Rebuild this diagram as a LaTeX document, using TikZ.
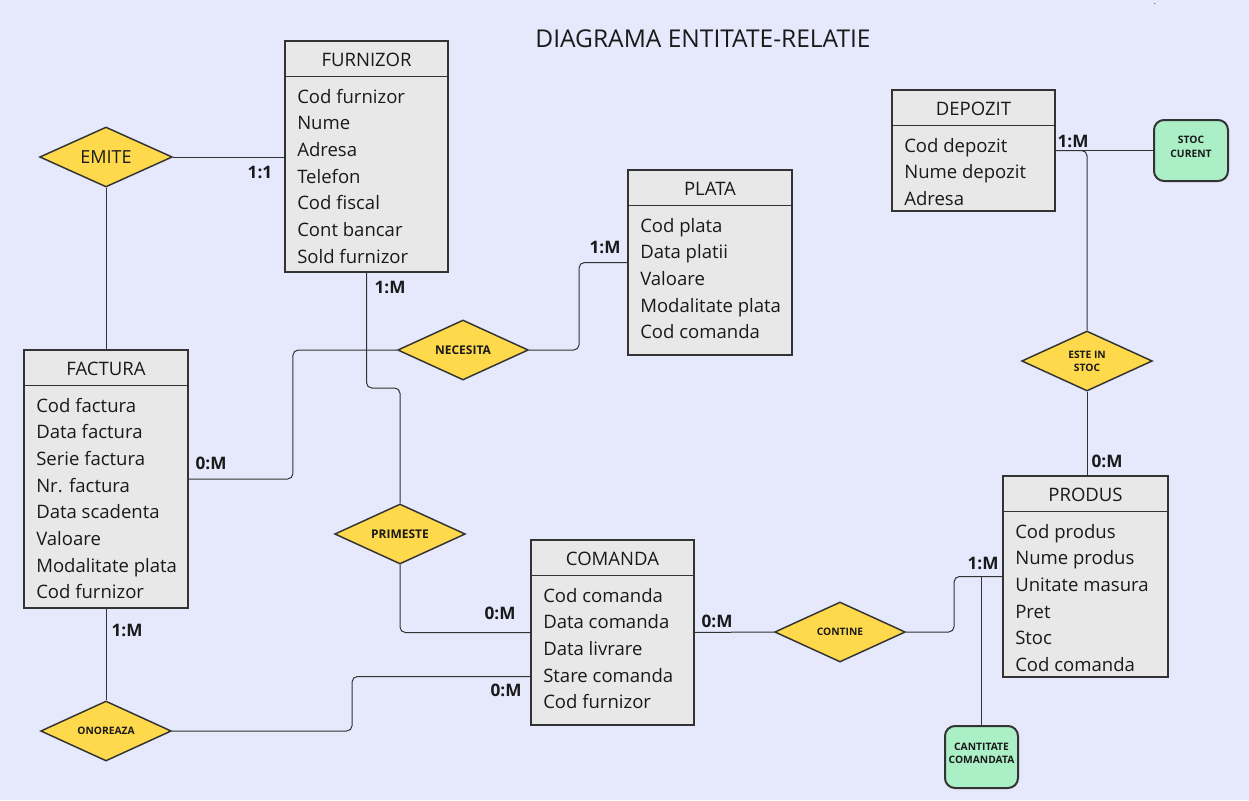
\documentclass[tikz,border=0pt]{standalone}
\usepackage{fontspec}
\setmainfont{Open Sans}
\usetikzlibrary{shapes.geometric, fit, calc, positioning}

\definecolor{bgcol}{RGB}{230,232,252}
\definecolor{entfill}{RGB}{232,232,232}
\definecolor{relfill}{RGB}{255,217,76}
\definecolor{atrfill}{RGB}{171,239,199}
\definecolor{linecol}{RGB}{51,51,51}
\definecolor{txtcol}{RGB}{26,26,26}

\begin{document}
\begin{tikzpicture}[
    x=0.75pt, y=-0.75pt,
    every node/.style={text=txtcol},
    entity/.style={draw=linecol, fill=entfill, line width=1.5pt, inner sep=0pt},
    entname/.style={font=\fontsize{13.9}{16}\selectfont, anchor=center},
    attrs/.style={font=\fontsize{13.9}{20}\selectfont, align=left, inner sep=0pt, anchor=north west},
    rel/.style={diamond, draw=linecol, fill=relfill, line width=1.1pt, aspect=2.2, inner sep=0pt, minimum width=98pt, minimum height=45pt, align=center},
    atr/.style={rectangle, rounded corners=7.5pt, draw=linecol, fill=atrfill, line width=1.5pt, inner sep=0pt, align=center, font=\fontsize{7.7}{10.5}\selectfont\bfseries},
    card/.style={font=\fontsize{12.9}{15}\selectfont\bfseries},
    link/.style={draw=linecol, line width=0.75pt, rounded corners=4pt},
    headline/.style={draw=linecol, line width=0.8pt}
]

% --- fundal si titlu
\fill[bgcol] (0,0) rectangle (1249,800);
\useasboundingbox (0,0) rectangle (1249,800);
\node[font=\fontsize{18.4}{20}\selectfont] (diagtitle) at (703,39) {DIAGRAMA ENTITATE-RELATIE};
\node[font=\fontsize{6}{6}\selectfont] (dot) at (1155,4) {.};

% --- entitati
\node[entity, fit={(285,41) (448,272)}] (furnizor) {};
\node[entity, fit={(24,350) (188,608)}] (factura) {};
\node[entity, fit={(628,170) (792,355)}] (plata) {};
\node[entity, fit={(531,540) (694,725)}] (comanda) {};
\node[entity, fit={(1003,476) (1168,677)}] (produs) {};
\node[entity, fit={(892,90) (1055,211)}] (depozit) {};

\foreach \e/\t in {furnizor/FURNIZOR, factura/FACTURA, plata/PLATA, comanda/COMANDA, produs/PRODUS, depozit/DEPOZIT}{
    \draw[headline] ([yshift=-27.5pt]\e.north west) -- ([yshift=-27.5pt]\e.north east);
    \node[entname] (\e-name) at ([yshift=-14.6pt]\e.north) {\t};
}

% --- atribute
\node[attrs] (furnizor-attr) at ([xshift=9.75pt, yshift=-36.6pt]furnizor.north west)
    {Cod furnizor\\Nume\\Adresa\\Telefon\\Cod fiscal\\Cont bancar\\Sold furnizor};
\node[attrs] (factura-attr) at ([xshift=9.75pt, yshift=-36.6pt]factura.north west)
    {Cod factura\\Data factura\\Serie factura\\Nr. factura\\Data scadenta\\Valoare\\Modalitate plata\\Cod furnizor};
\node[attrs] (plata-attr) at ([xshift=9.75pt, yshift=-36.6pt]plata.north west)
    {Cod plata\\Data platii\\Valoare\\Modalitate plata\\Cod comanda};
\node[attrs] (comanda-attr) at ([xshift=9.75pt, yshift=-36.6pt]comanda.north west)
    {Cod comanda\\Data comanda\\Data livrare\\Stare comanda\\Cod furnizor};
\node[attrs] (produs-attr) at ([xshift=9.75pt, yshift=-36.6pt]produs.north west)
    {Cod produs\\Nume produs\\Unitate masura\\Pret\\Stoc\\Cod comanda};
\node[attrs] (depozit-attr) at ([xshift=9.75pt, yshift=-36.6pt]depozit.north west)
    {Cod depozit\\Nume depozit\\Adresa};

% --- relatii
\node[rel, minimum width=99.5pt, font=\fontsize{13.5}{16}\selectfont] (emite) at (106,157) {EMITE};
\node[rel, font=\fontsize{9}{11}\selectfont\bfseries] (necesita) at (463,350) {NECESITA};
\node[rel, font=\fontsize{9}{11}\selectfont\bfseries] (primeste) at (400,534) {PRIMESTE};
\node[rel, font=\fontsize{7.7}{9.75}\selectfont\bfseries] (contine) at (840,632) {CONTINE};
\node[rel, font=\fontsize{7.7}{9.75}\selectfont\bfseries] (onoreaza) at (106,731) {ONOREAZA};
\node[rel, font=\fontsize{7.7}{9.75}\selectfont\bfseries] (este) at (1087,361) {ESTE IN\\STOC};

% --- atribute ale relatiilor
\node[atr, fit={(1154,120) (1228,181)}] (stoc) {STOC\\CURENT};
\node[atr, fit={(945,726) (1018,788)}, font=\fontsize{7.7}{9.75}\selectfont\bfseries] (cantitate) {CANTITATE\\COMANDATA};

% --- legaturi
\draw[link] (emite) -- (emite -| furnizor.west);
\draw[link] (emite) -- (factura);
\draw[link] (furnizor.south) -- ++(0,115) -| (primeste.north);
\draw[link] (primeste.south) |- (comanda.west);
\draw[link] (necesita.west) -- ++(-104,0) |- (factura.east);
\draw[link] (necesita.east) -- ++(50,0) |- (plata.west);
\draw[link] (comanda) -- (contine);
\draw[link] (contine.east) -- ++(48,0) |- (produs.west);
\draw[link] (cantitate.north) -- (cantitate.north |- produs.west);
\draw[link] (depozit) -- (stoc);
\draw[link] (depozit.east) -| (este.north);
\draw[link] (este) -- (este |- produs.north);
\draw[link] (factura) -- (onoreaza);
\draw[link] (onoreaza.east) -- ++(180,0) |- ([yshift=-33pt]comanda.west);

% --- cardinalitati
\node[card] (card-emite) at (260,172) {1:1};
\node[card] (card-furnizor) at (390,287) {1:M};
\node[card] (card-factura) at (211,463) {0:M};
\node[card] (card-plata) at (605,247) {1:M};
\node[card] (card-primeste) at (500,613) {0:M};
\node[card] (card-onoreaza) at (506,690) {0:M};
\node[card] (card-factura2) at (127,630) {1:M};
\node[card] (card-comanda) at (717,621) {0:M};
\node[card] (card-produs) at (983,563) {1:M};
\node[card] (card-depozit) at (1073,141) {1:M};
\node[card] (card-produs2) at (1107,461) {0:M};

\end{tikzpicture}
\end{document}
